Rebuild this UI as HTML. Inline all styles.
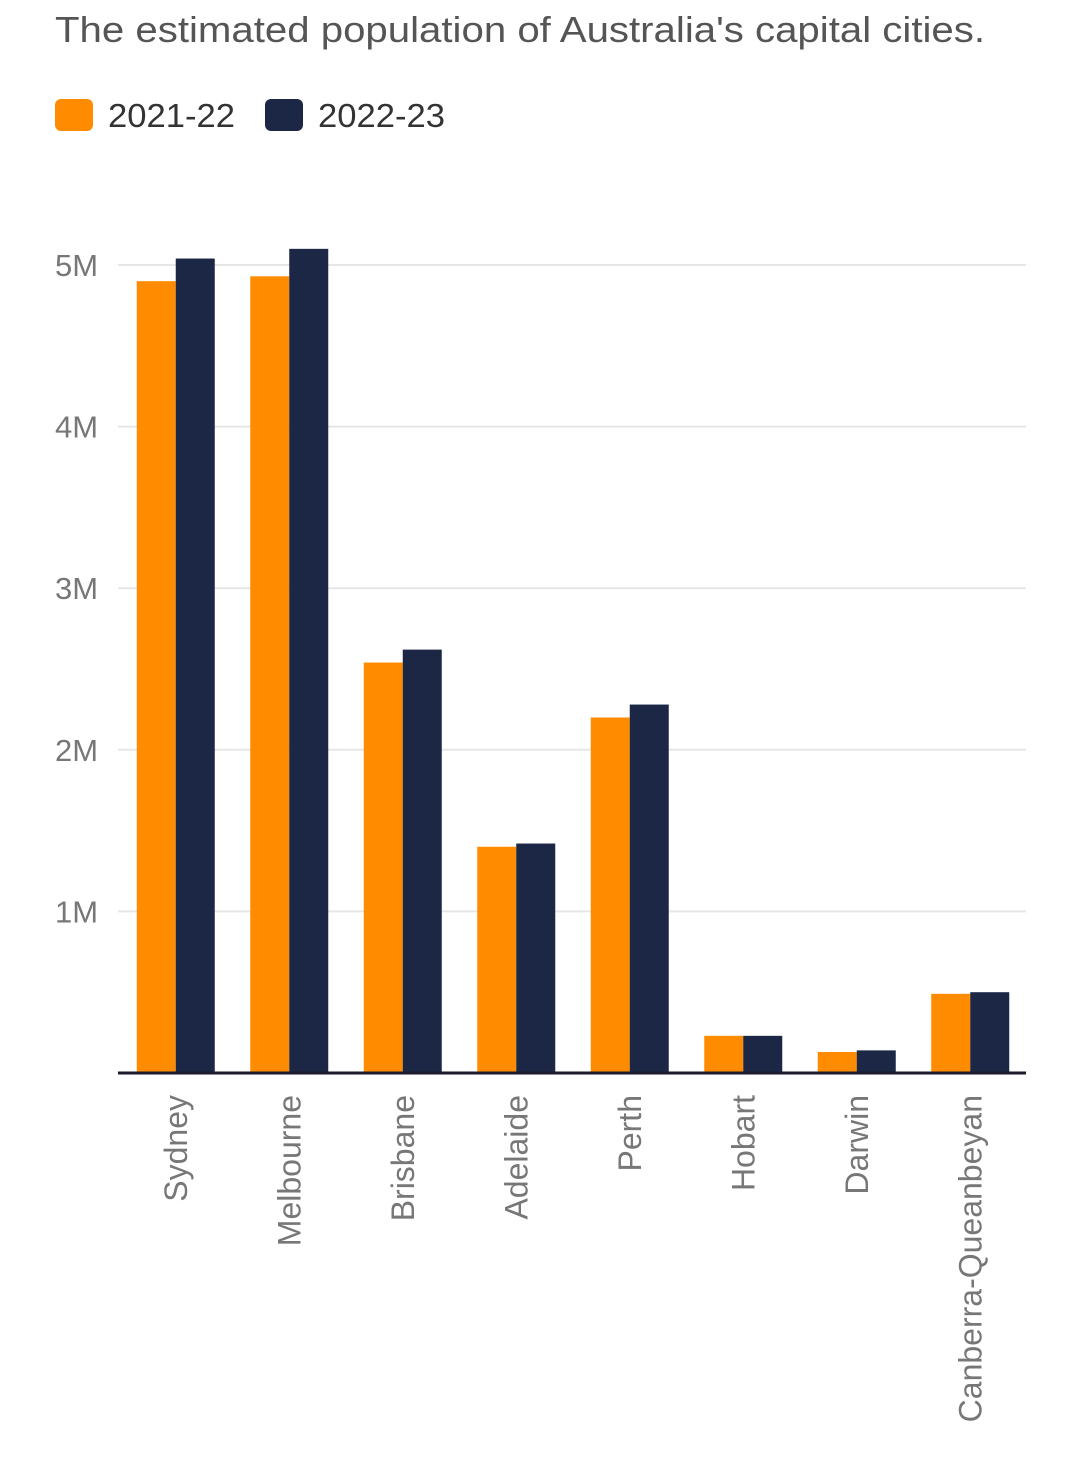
<!DOCTYPE html>
<html><head><meta charset="utf-8"><style>
body{margin:0;background:#fff;width:1080px;height:1458px;overflow:hidden;font-family:"Liberation Sans",sans-serif;}
</style></head><body>
<svg width="1080" height="1458" id="svg">
<text x="55" y="42" font-size="36" fill="#555" textLength="930" lengthAdjust="spacingAndGlyphs">The estimated population of Australia's capital cities.</text>
<g>
<rect x="55" y="99" width="38" height="32" rx="6" fill="#ff8c00"/>
<text x="108" y="127" font-size="33" fill="#333" textLength="127" lengthAdjust="spacingAndGlyphs">2021-22</text>
<rect x="265" y="99" width="38" height="32" rx="6" fill="#1b2745"/>
<text x="318" y="127" font-size="33" fill="#333" textLength="127" lengthAdjust="spacingAndGlyphs">2022-23</text>
</g>
<g id="plot"></g>
</svg>
<script>
const categories=["Sydney","Melbourne","Brisbane","Adelaide","Perth","Hobart","Darwin","Canberra-Queanbeyan"];
const values2122=[4.90,4.93,2.54,1.40,2.20,0.23,0.13,0.49];
const values2223=[5.04,5.10,2.62,1.42,2.28,0.23,0.14,0.50];
const yTicks=[1,2,3,4,5];
const tickLabels=["1M","2M","3M","4M","5M"];
const NS="http://www.w3.org/2000/svg";
const g=document.getElementById('plot');
const x0=118,x1=1026,yBase=1073,pxPerM=161.6;
const band=(x1-x0)/categories.length;
const y=v=>yBase-v*pxPerM;
const xc=i=>x0+band*i+band/2+1;
function mk(t,a){const e=document.createElementNS(NS,t);for(const k in a)e.setAttribute(k,a[k]);g.appendChild(e);return e;}
yTicks.forEach((t,i)=>{
 const l=mk('line',{x1:x0,x2:x1,y1:y(t),y2:y(t),stroke:'#e6e6e6','stroke-width':2});
 
 
 const tx=mk('text',{x:55,y:y(t)+11,'font-size':31,fill:'#777'});
 tx.textContent=tickLabels[i];
 
 
});
categories.forEach((c,i)=>{
 const cx=xc(i);
 const a=mk('rect',{x:cx-39,y:y(values2122[i]),width:39,height:values2122[i]*pxPerM,fill:'#ff8c00'});
 
 
 const b=mk('rect',{x:cx,y:y(values2223[i]),width:39,height:values2223[i]*pxPerM,fill:'#1b2745'});
 
 
 const t=mk('text',{transform:`translate(${cx+11},1095) rotate(-90)`,'text-anchor':'end','font-size':32,fill:'#777'});
 t.textContent=c;
 
 
});
const ax=mk('line',{x1:x0,x2:x1,y1:yBase,y2:yBase,stroke:'#1b1b2b','stroke-width':3});


</script>
</body></html>
